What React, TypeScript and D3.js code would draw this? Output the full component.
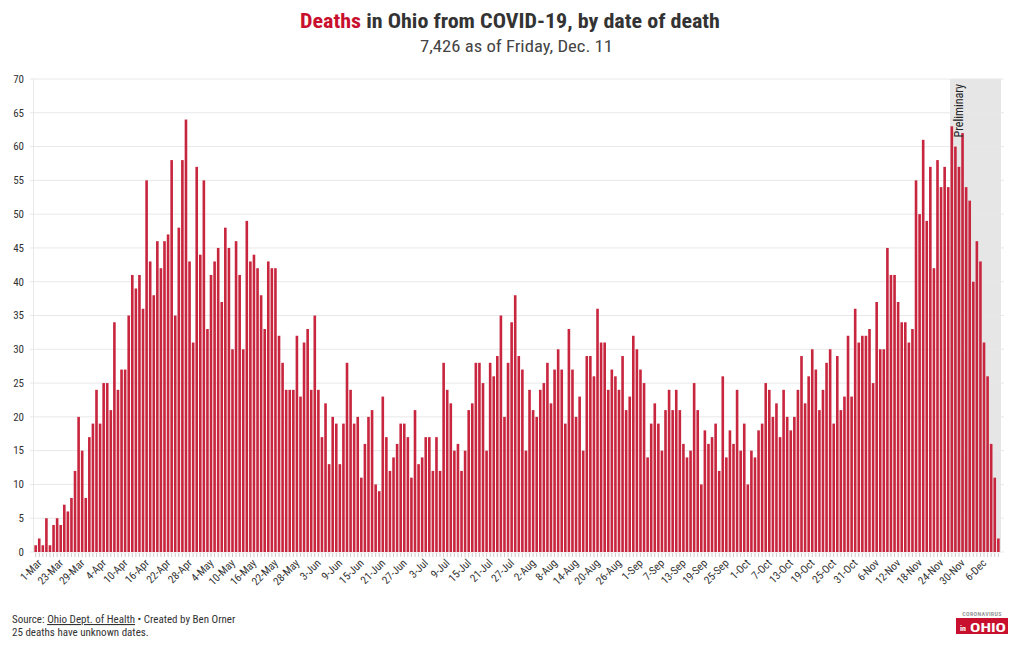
import React from "react";
import * as d3 from "d3";

// ---- data ----
const START_LABEL = "1-Mar";
const FIRST_DAY = new Date(2020, 2, 18);
const LAST_DAY_EXCL = new Date(2020, 11, 12);

const deaths = [
  1, 2, 1, 5, 1, 4, 5, 4, 7, 6, 8, 12, 20, 15, 8, 17, 19, 24, 19, 25,
  25, 21, 34, 24, 27, 27, 35, 41, 39, 41, 36, 55, 43, 38, 46, 42, 46, 47, 58, 35,
  48, 58, 64, 43, 31, 57, 44, 55, 33, 41, 43, 45, 37, 48, 45, 30, 46, 41, 30, 49,
  43, 44, 42, 38, 33, 43, 42, 42, 32, 28, 24, 24, 24, 32, 23, 31, 33, 24, 35, 24,
  17, 22, 13, 20, 19, 13, 19, 28, 24, 19, 20, 11, 16, 20, 21, 10, 9, 23, 17, 12,
  14, 16, 19, 19, 17, 11, 21, 13, 14, 17, 17, 12, 17, 12, 28, 24, 22, 15, 16, 12,
  15, 21, 22, 28, 28, 25, 15, 28, 26, 29, 35, 20, 28, 34, 38, 29, 27, 15, 24, 21,
  20, 24, 25, 28, 22, 27, 30, 27, 19, 33, 27, 20, 23, 15, 29, 29, 26, 36, 31, 31,
  24, 27, 26, 24, 29, 21, 23, 32, 30, 27, 25, 14, 19, 22, 19, 15, 21, 24, 21, 24,
  21, 16, 14, 15, 25, 21, 10, 18, 16, 17, 19, 12, 26, 14, 18, 16, 24, 15, 19, 10,
  15, 14, 18, 19, 25, 24, 20, 22, 17, 24, 20, 18, 20, 24, 29, 22, 26, 30, 27, 21,
  24, 28, 30, 19, 29, 21, 23, 32, 23, 36, 31, 32, 32, 33, 25, 37, 30, 30, 45, 41,
  41, 37, 34, 34, 31, 33, 55, 50, 61, 49, 57, 42, 58, 54, 57, 54, 63, 60, 57, 62,
  54, 52, 40, 46, 43, 31, 26, 16, 11, 2,
];

const yTicks = [0, 5, 10, 15, 20, 25, 30, 35, 40, 45, 50, 55, 60, 65, 70];
const LABEL_EVERY = 6;
const PRELIM_DAYS = 14;

const TITLE_RED = "Deaths";
const TITLE_REST = " in Ohio from COVID-19, by date of death";
const SUBTITLE = "7,426 as of Friday, Dec. 11";

const W = 1020;
const H = 650;
const FONT = "'Roboto Condensed', 'Liberation Sans Narrow', 'DejaVu Sans Condensed', Roboto, sans-serif";
const BAR = "#c8263f";

export default function App() {
  const fmt = d3.timeFormat("%-d-%b");
  const days = d3.timeDay.range(FIRST_DAY, LAST_DAY_EXCL);
  const categories = [START_LABEL, ...days.map((d) => fmt(d))];

  const x = d3
    .scaleBand<string>()
    .domain(categories)
    .range([34, 1000])
    .paddingInner(0.27)
    .paddingOuter(0.1);
  const y = d3.scaleLinear().domain([0, 70]).range([552, 79]);

  const step = x.step();
  const prelimStart = categories[categories.length - PRELIM_DAYS];
  const shadeX = (x(prelimStart) as number) - step * x.paddingInner() / 2;

  return (
    <svg
      width={W}
      height={H}
      style={{ position: "absolute", left: 0, top: 0, background: "#fff" }}
      fontFamily={FONT}
    >
      {/* title */}
      <text x={300} y={28} fontSize={21} fontWeight="bold" fill="#333" textLength={420} lengthAdjust="spacingAndGlyphs">
        <tspan fill="#c8102e">{TITLE_RED}</tspan>
        <tspan>{TITLE_REST}</tspan>
      </text>
      <text x={420} y={52} fontSize={17} fill="#444" textLength={193} lengthAdjust="spacingAndGlyphs">
        {SUBTITLE}
      </text>

      {/* preliminary shading */}
      <rect x={shadeX} y={y(70)} width={1001 - shadeX} height={y(0) - y(70)} fill="#e6e6e6" />

      {/* grid */}
      {yTicks.map((t) => (
        <line key={"g" + t} x1={30} x2={1004} y1={y(t)} y2={y(t)} stroke="#e8e8e8" strokeWidth={1} />
      ))}
      <line x1={33.5} x2={33.5} y1={y(70)} y2={y(0)} stroke="#e8e8e8" />

      {/* y labels */}
      {yTicks.map((t) => (
        <text key={"y" + t} x={24} y={y(t)} dy="0.35em" fontSize={11} fill="#333" textAnchor="end">
          {t}
        </text>
      ))}

      {/* bars */}
      {deaths.map((v, i) => (
        <rect
          key={"b" + i}
          x={x(categories[i]) as number}
          y={y(v)}
          width={x.bandwidth()}
          height={y(0) - y(v)}
          fill={BAR}
        />
      ))}

      {/* x ticks */}
      {categories.map((c) => {
        const cx = (x(c) as number) + x.bandwidth() / 2;
        return <line key={"t" + c} x1={cx} x2={cx} y1={553} y2={557} stroke="#ccc" />;
      })}
      {categories
        .filter((_, i) => i % LABEL_EVERY === 0)
        .map((c) => {
          const cx = (x(c) as number) + x.bandwidth() / 2;
          return (
            <text
              key={"l" + c}
              transform={`translate(${cx + 4},${561}) rotate(-45)`}
              textAnchor="end"
              fontSize={11}
              fill="#333"
              dy="0.35em"
            >
              {c}
            </text>
          );
        })}

      {/* preliminary label */}
      <text
        transform={`translate(${963},${84}) rotate(-90)`}
        textAnchor="end"
        fontSize={12}
        fill="#222"
      >
        Preliminary
      </text>

      {/* footer */}
      <text x={12} y={623} fontSize={11} fill="#333">
        <tspan>Source: </tspan>
        <tspan textDecoration="underline">Ohio Dept. of Health</tspan>
        <tspan> • Created by Ben Orner</tspan>
      </text>
      <text x={12} y={636} fontSize={11} fill="#333">
        25 deaths have unknown dates.
      </text>

      {/* logo */}
      <text x={982} y={616} fontSize={6} fill="#999" textAnchor="middle" fontWeight="bold" letterSpacing={0.3}>
        CORONAVIRUS
      </text>
      <rect x={956} y={618} width={52} height={16} fill="#c8102e" />
      <text x={960} y={631} fontSize={8} fill="#fff" fontWeight="bold">in</text>
      <text x={970} y={632} fontSize={13} fill="#fff" fontWeight="bold" textLength={36} lengthAdjust="spacingAndGlyphs">
        OHIO
      </text>
    </svg>
  );
}
